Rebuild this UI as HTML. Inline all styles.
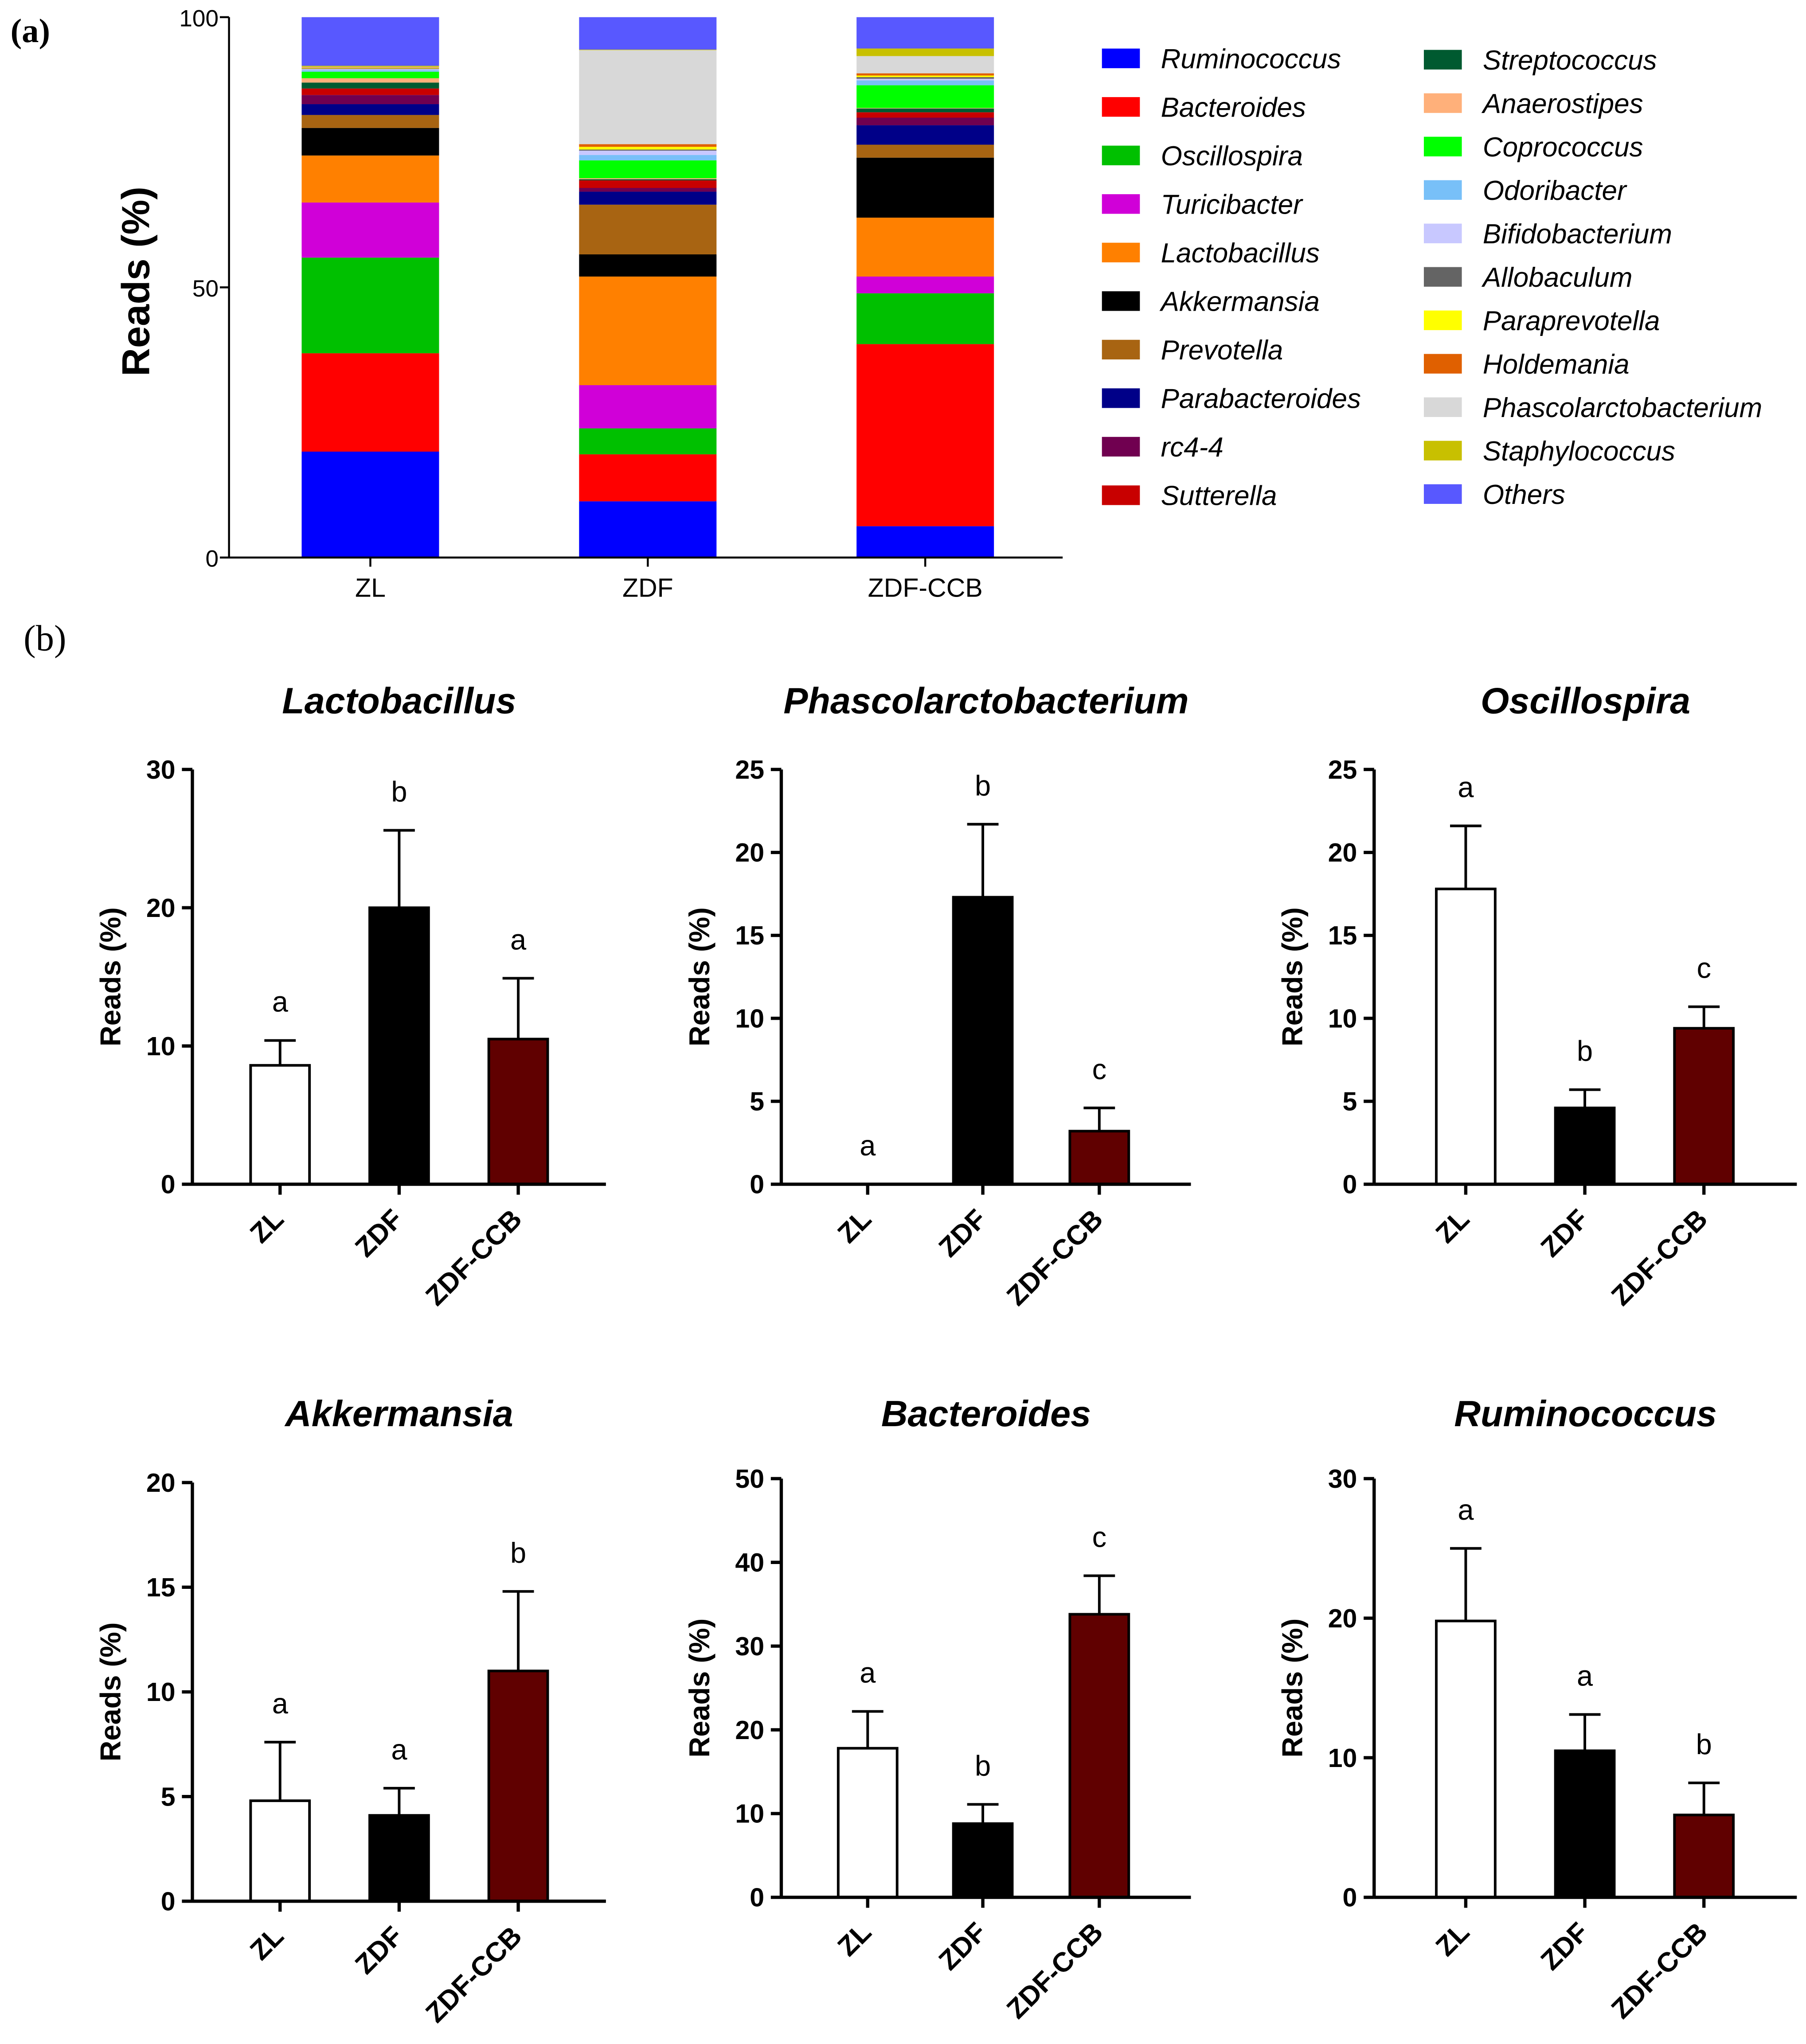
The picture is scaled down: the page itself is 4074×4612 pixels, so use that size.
<!DOCTYPE html>
<html><head><meta charset="utf-8">
<style>
html,body{margin:0;padding:0;background:#fff;}
svg{display:block;}
text{font-family:"Liberation Sans",sans-serif;}
</style></head>
<body>
<svg id="fig" width="4074" height="4612" viewBox="0 0 1380 1562" xmlns="http://www.w3.org/2000/svg">
<text x="8" y="32" font-family="Liberation Serif" font-weight="bold" font-size="26" style="font-family:'Liberation Serif',serif">(a)</text>
<text x="18" y="497" font-size="28" style="font-family:'Liberation Serif',serif">(b)</text>
<g id="stack"></g>
<g id="legend"></g>
<g id="panels"></g>
</svg>
<script>
const NS="http://www.w3.org/2000/svg";
// ---- stacked chart data ----
const stackGroups=["ZL","ZDF","ZDF-CCB"];
const taxa=["Ruminococcus","Bacteroides","Oscillospira","Turicibacter","Lactobacillus","Akkermansia","Prevotella","Parabacteroides","rc4-4","Sutterella","Streptococcus","Anaerostipes","Coprococcus","Odoribacter","Bifidobacterium","Allobaculum","Paraprevotella","Holdemania","Phascolarctobacterium","Staphylococcus","Others"];
const taxaColors=["#0000ff","#ff0000","#00c000","#d000d8","#ff8000","#000000","#a86412","#000088","#700050","#c80000","#005a30","#ffb07a","#00ff00","#78c0f8","#c8c8ff","#646464","#ffff00","#e06000","#d8d8d8","#c8c000","#5858ff"];
const zlValues=[19.6,18.2,17.7,10.2,8.7,5.1,2.4,2.0,1.7,1.2,1.1,0.8,1.2,0.3,0.2,0.1,0.1,0.1,0.1,0.2,9.0];
const zdfValues=[10.4,8.7,4.8,8.0,20.1,4.1,9.2,2.4,0.7,1.4,0.2,0.2,3.3,1.0,0.8,0.2,0.5,0.5,17.4,0.1,6.0];
const ccbValues=[5.8,33.7,9.4,3.1,10.9,11.1,2.4,3.6,1.4,1.0,0.7,0.1,4.2,0.9,0.3,0.3,0.3,0.4,3.2,1.4,5.8];
const stackSeries=[zlValues,zdfValues,ccbValues];
const stackTicks=[0,50,100];

function el(tag,attrs,parent,txt){const e=document.createElementNS(NS,tag);for(const k in attrs)e.setAttribute(k,attrs[k]);if(txt!==undefined)e.textContent=txt;parent.appendChild(e);return e;}

(function(){
 const g=document.getElementById('stack');
 const x0=175,yTop=13,yBot=426,xEnd=812;
 const y=v=>yBot-(v/100)*(yBot-yTop);
 const xc=i=>283+i*212;
 const bw=105;
 stackSeries.forEach((vals,i)=>{
  let cum=0;
  vals.forEach((v,j)=>{
   const r=el('rect',{x:xc(i)-bw/2,y:y(cum+v),width:bw,height:Math.max(0,y(cum)-y(cum+v)),fill:taxaColors[j]},g);
   
   
   cum+=v;
  });
  const t=el('text',{x:xc(i),y:456,'text-anchor':'middle','font-size':20},g,stackGroups[i]);
  
  
  el('line',{x1:xc(i),x2:xc(i),y1:yBot,y2:yBot+7,stroke:'#000','stroke-width':1.5},g);
 });
 el('line',{x1:x0,x2:x0,y1:yTop,y2:yBot,stroke:'#000','stroke-width':1.5},g);
 el('line',{x1:x0,x2:xEnd,y1:yBot,y2:yBot,stroke:'#000','stroke-width':1.5},g);
 stackTicks.forEach(v=>{
  el('line',{x1:x0-7,x2:x0,y1:y(v),y2:y(v),stroke:'#000','stroke-width':1.5},g);
  const t=el('text',{x:x0-8,y:y(v)+7,'text-anchor':'end','font-size':18},g,v);
  
  
 });
 const yl=el('text',{x:0,y:0,transform:'translate(114,215) rotate(-90)','text-anchor':'middle','font-size':30,'font-weight':'bold'},g,'Reads (%)');
 
 
 const lg=document.getElementById('legend');
 taxa.forEach((n,j)=>{
  let sx,ty;
  if(j<10){sx=842;ty=45+j*37.1;}else{sx=1088;ty=46+(j-10)*33.2;}
  const gr=el('g',{},lg);
  
  
  el('rect',{x:sx,y:ty-8,width:29,height:15,fill:taxaColors[j]},gr);
  el('text',{x:sx+45,y:ty+7,'font-size':21,'font-style':'italic'},gr,n);
 });
})();

// ---- small bar panels ----
const panelTitles=["Lactobacillus","Phascolarctobacterium","Oscillospira","Akkermansia","Bacteroides","Ruminococcus"];
const groupNames=["ZL","ZDF","ZDF-CCB"];
const panelMeans=[[8.6,20.0,10.5],[0,17.3,3.2],[17.8,4.6,9.4],[4.8,4.1,11.0],[17.8,8.8,33.8],[19.8,10.5,5.9]];
const panelErrors=[[1.8,5.6,4.4],[0,4.4,1.4],[3.8,1.1,1.3],[2.8,1.3,3.8],[4.4,2.3,4.6],[5.2,2.6,2.3]];
const panelLetters=[["a","b","a"],["a","b","c"],["a","b","c"],["a","a","b"],["a","b","c"],["a","a","b"]];
const panelMax=[30,25,25,20,50,30];
const panelStep=[10,5,5,5,10,10];
const barFills=["#ffffff","#000000","#600000"];

(function(){
 const root=document.getElementById('panels');
 const layouts=[
  {ax:147,top:588,bot:905,end:463,c:[214,305,396]},
  {ax:597,top:588,bot:905,end:910,c:[663,751,840]},
  {ax:1050,top:588,bot:905,end:1373,c:[1120,1211,1302]},
  {ax:147,top:1133,bot:1453,end:463,c:[214,305,396]},
  {ax:597,top:1130,bot:1450,end:910,c:[663,751,840]},
  {ax:1050,top:1130,bot:1450,end:1373,c:[1120,1211,1302]}];
 panelTitles.forEach((title,p)=>{
  const L=layouts[p];
  const g=el('g',{},root);
  
  
  const y=v=>L.bot-(v/panelMax[p])*(L.bot-L.top);
  const titleY=p<3?545:1090;
  const tt=el('text',{x:(L.ax+L.end)/2,y:titleY,'text-anchor':'middle','font-size':28,'font-weight':'bold','font-style':'italic'},g,title);
  
  
  const yl=el('text',{x:0,y:0,transform:`translate(${L.ax-55},${(L.top+L.bot)/2}) rotate(-90)`,'text-anchor':'middle','font-size':22,'font-weight':'bold'},g,'Reads  (%)');
  
  
  for(let v=0;v<=panelMax[p];v+=panelStep[p]){
   el('line',{x1:L.ax-8,x2:L.ax,y1:y(v),y2:y(v),stroke:'#000','stroke-width':2.5},g);
   const t=el('text',{x:L.ax-13,y:y(v)+7,'text-anchor':'end','font-size':20,'font-weight':'bold'},g,v);
   
   
  }
  const bw=45;
  groupNames.forEach((gn,i)=>{
   const m=panelMeans[p][i],e=panelErrors[p][i],cx=L.c[i];
   if(e>0){
    el('line',{x1:cx,x2:cx,y1:y(m),y2:y(m+e),stroke:'#000','stroke-width':2},g);
    el('line',{x1:cx-12,x2:cx+12,y1:y(m+e),y2:y(m+e),stroke:'#000','stroke-width':2},g);
   }
   if(m>0){
    const r=el('rect',{x:cx-bw/2,y:y(m),width:bw,height:y(0)-y(m),fill:barFills[i],stroke:'#000','stroke-width':2},g);
    
    
   }
   const lt=el('text',{x:cx,y:y(m+e)-22,'text-anchor':'middle','font-size':22},g,panelLetters[p][i]);
   
   
   el('line',{x1:cx,x2:cx,y1:L.bot,y2:L.bot+8,stroke:'#000','stroke-width':2.5},g);
   const xl=el('text',{x:0,y:0,transform:`translate(${cx+4},${L.bot+28}) rotate(-45)`,'text-anchor':'end','font-size':21,'font-weight':'bold'},g,gn);
   
   
  });
  el('line',{x1:L.ax,x2:L.ax,y1:L.top,y2:L.bot,stroke:'#000','stroke-width':2.5},g);
  el('line',{x1:L.ax,x2:L.end,y1:L.bot,y2:L.bot,stroke:'#000','stroke-width':2.5},g);
 });
})();
</script>
</body></html>
